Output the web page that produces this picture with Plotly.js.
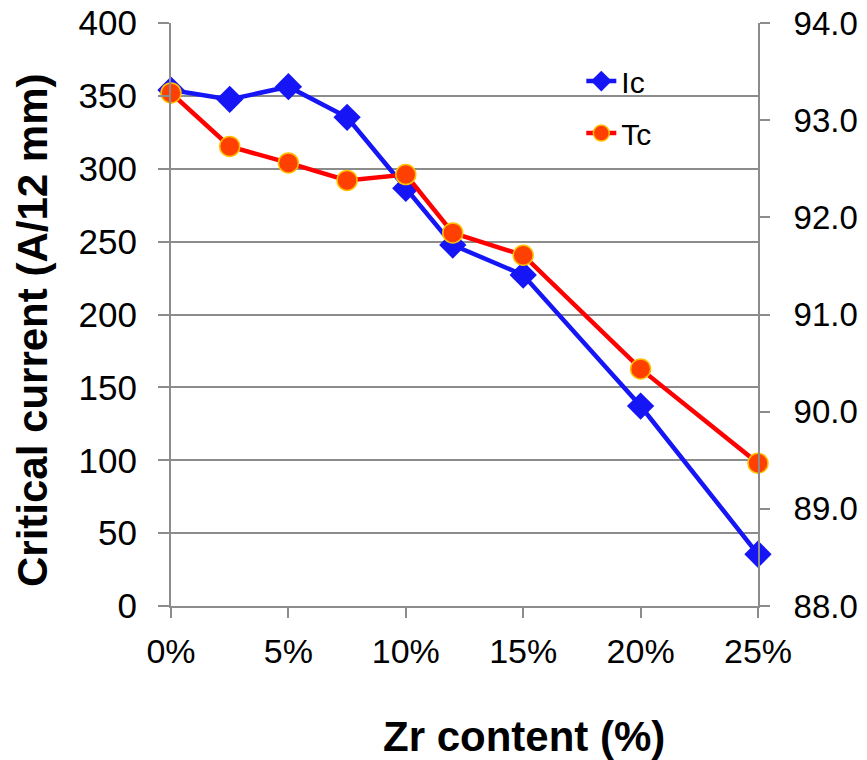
<!DOCTYPE html>
<html>
<head>
<meta charset="utf-8">
<script src="https://cdn.plot.ly/plotly-3.0.1.min.js"></script>
<style>
  html, body { margin: 0; padding: 0; background: #ffffff; }
  #chart { width: 867px; height: 760px; }
</style>
</head>
<body>
<div id="chart"></div>
<script>
// Zr content (%) at which each sample was measured
const zrContent = [0, 2.5, 5, 7.5, 10, 12, 15, 20, 25];
// Critical current Ic (A/12 mm), left axis
const icValues = [354, 347.6, 356.3, 335.3, 286.6, 247.7, 227.1, 137.2, 35.5];
// Critical temperature Tc (K), right axis
const tcValues = [93.28, 92.73, 92.56, 92.38, 92.44, 91.84, 91.61, 90.44, 89.47];
// Tick labels
const xTickVals = [0, 5, 10, 15, 20, 25];
const xTickText = ['0%', '5%', '10%', '15%', '20%', '25%'];
const yTickVals = [0, 50, 100, 150, 200, 250, 300, 350, 400];
const y2TickVals = [88, 89, 90, 91, 92, 93, 94];
const y2TickText = ['88.0', '89.0', '90.0', '91.0', '92.0', '93.0', '94.0'];

const FONT = 'Liberation Sans, Arial, sans-serif';
const GRID = '#8c8c8c';

const traces = [
  {
    x: zrContent, y: icValues, name: 'Ic', type: 'scatter', mode: 'lines+markers',
    yaxis: 'y', legendgroup: 'ic', cliponaxis: false,
    line: { color: '#1515f5', width: 4.5 },
    marker: { symbol: 'diamond', size: 21, color: '#1515f5' }
  },
  {
    x: zrContent, y: tcValues, name: 'Tc', type: 'scatter', mode: 'lines+markers',
    yaxis: 'y2', legendgroup: 'tc', cliponaxis: false,
    line: { color: '#ff0000', width: 4.5 },
    marker: { symbol: 'circle', size: 20, color: '#ff4000', line: { color: '#ffc000', width: 1.5 } }
  }
];

const layout = {
  width: 867, height: 760,
  margin: { l: 171, r: 109, t: 23, b: 154 },
  paper_bgcolor: '#ffffff', plot_bgcolor: '#ffffff',
  font: { family: FONT, color: '#000000', size: 34 },
  showlegend: true,
  legend: {
    x: 0.699, y: 0.945, xanchor: 'left', yanchor: 'top',
    bgcolor: 'rgba(0,0,0,0)', borderwidth: 0,
    font: { family: FONT, size: 30, color: '#000000' },
    traceorder: 'grouped', tracegroupgap: 10
  },
  xaxis: {
    range: [0, 25], tickmode: 'array', tickvals: xTickVals, ticktext: xTickText,
    showgrid: false, zeroline: false,
    showline: true, linecolor: GRID, linewidth: 2,
    ticks: 'outside', ticklen: 10, tickwidth: 2, tickcolor: GRID,
    ticklabelstandoff: 4,
    tickfont: { family: FONT, size: 34, color: '#000000' }
  },
  yaxis: {
    range: [0, 400], tickmode: 'array', tickvals: yTickVals,
    showgrid: true, gridcolor: GRID, gridwidth: 2, zeroline: false,
    showline: true, linecolor: GRID, linewidth: 2,
    ticks: 'outside', ticklen: 11, tickwidth: 2, tickcolor: GRID,
    ticklabelstandoff: 14,
    tickfont: { family: FONT, size: 35, color: '#000000' }
  },
  yaxis2: {
    range: [88, 94], overlaying: 'y', side: 'right',
    tickmode: 'array', tickvals: y2TickVals, ticktext: y2TickText,
    showgrid: false, zeroline: false,
    showline: true, linecolor: GRID, linewidth: 2,
    ticks: 'outside', ticklen: 10, tickwidth: 2, tickcolor: GRID,
    ticklabelstandoff: 17,
    tickfont: { family: FONT, size: 33, color: '#000000' }
  },
  annotations: [
    {
      text: '<b>Zr content (%)</b>', xref: 'paper', yref: 'paper',
      x: (524 - 171) / 587, y: (606 - 736) / 583, xanchor: 'center', yanchor: 'middle',
      showarrow: false, font: { family: FONT, size: 42, color: '#000000' }
    },
    {
      text: '<b>Critical current (A/12 mm)</b>', xref: 'paper', yref: 'paper',
      x: (32 - 171) / 587, y: (606 - 331) / 583, xanchor: 'center', yanchor: 'middle',
      textangle: -90,
      showarrow: false, font: { family: FONT, size: 42, color: '#000000' }
    }
  ]
};

Plotly.newPlot('chart', traces, layout, { displayModeBar: false, staticPlot: true });
</script>
</body>
</html>
